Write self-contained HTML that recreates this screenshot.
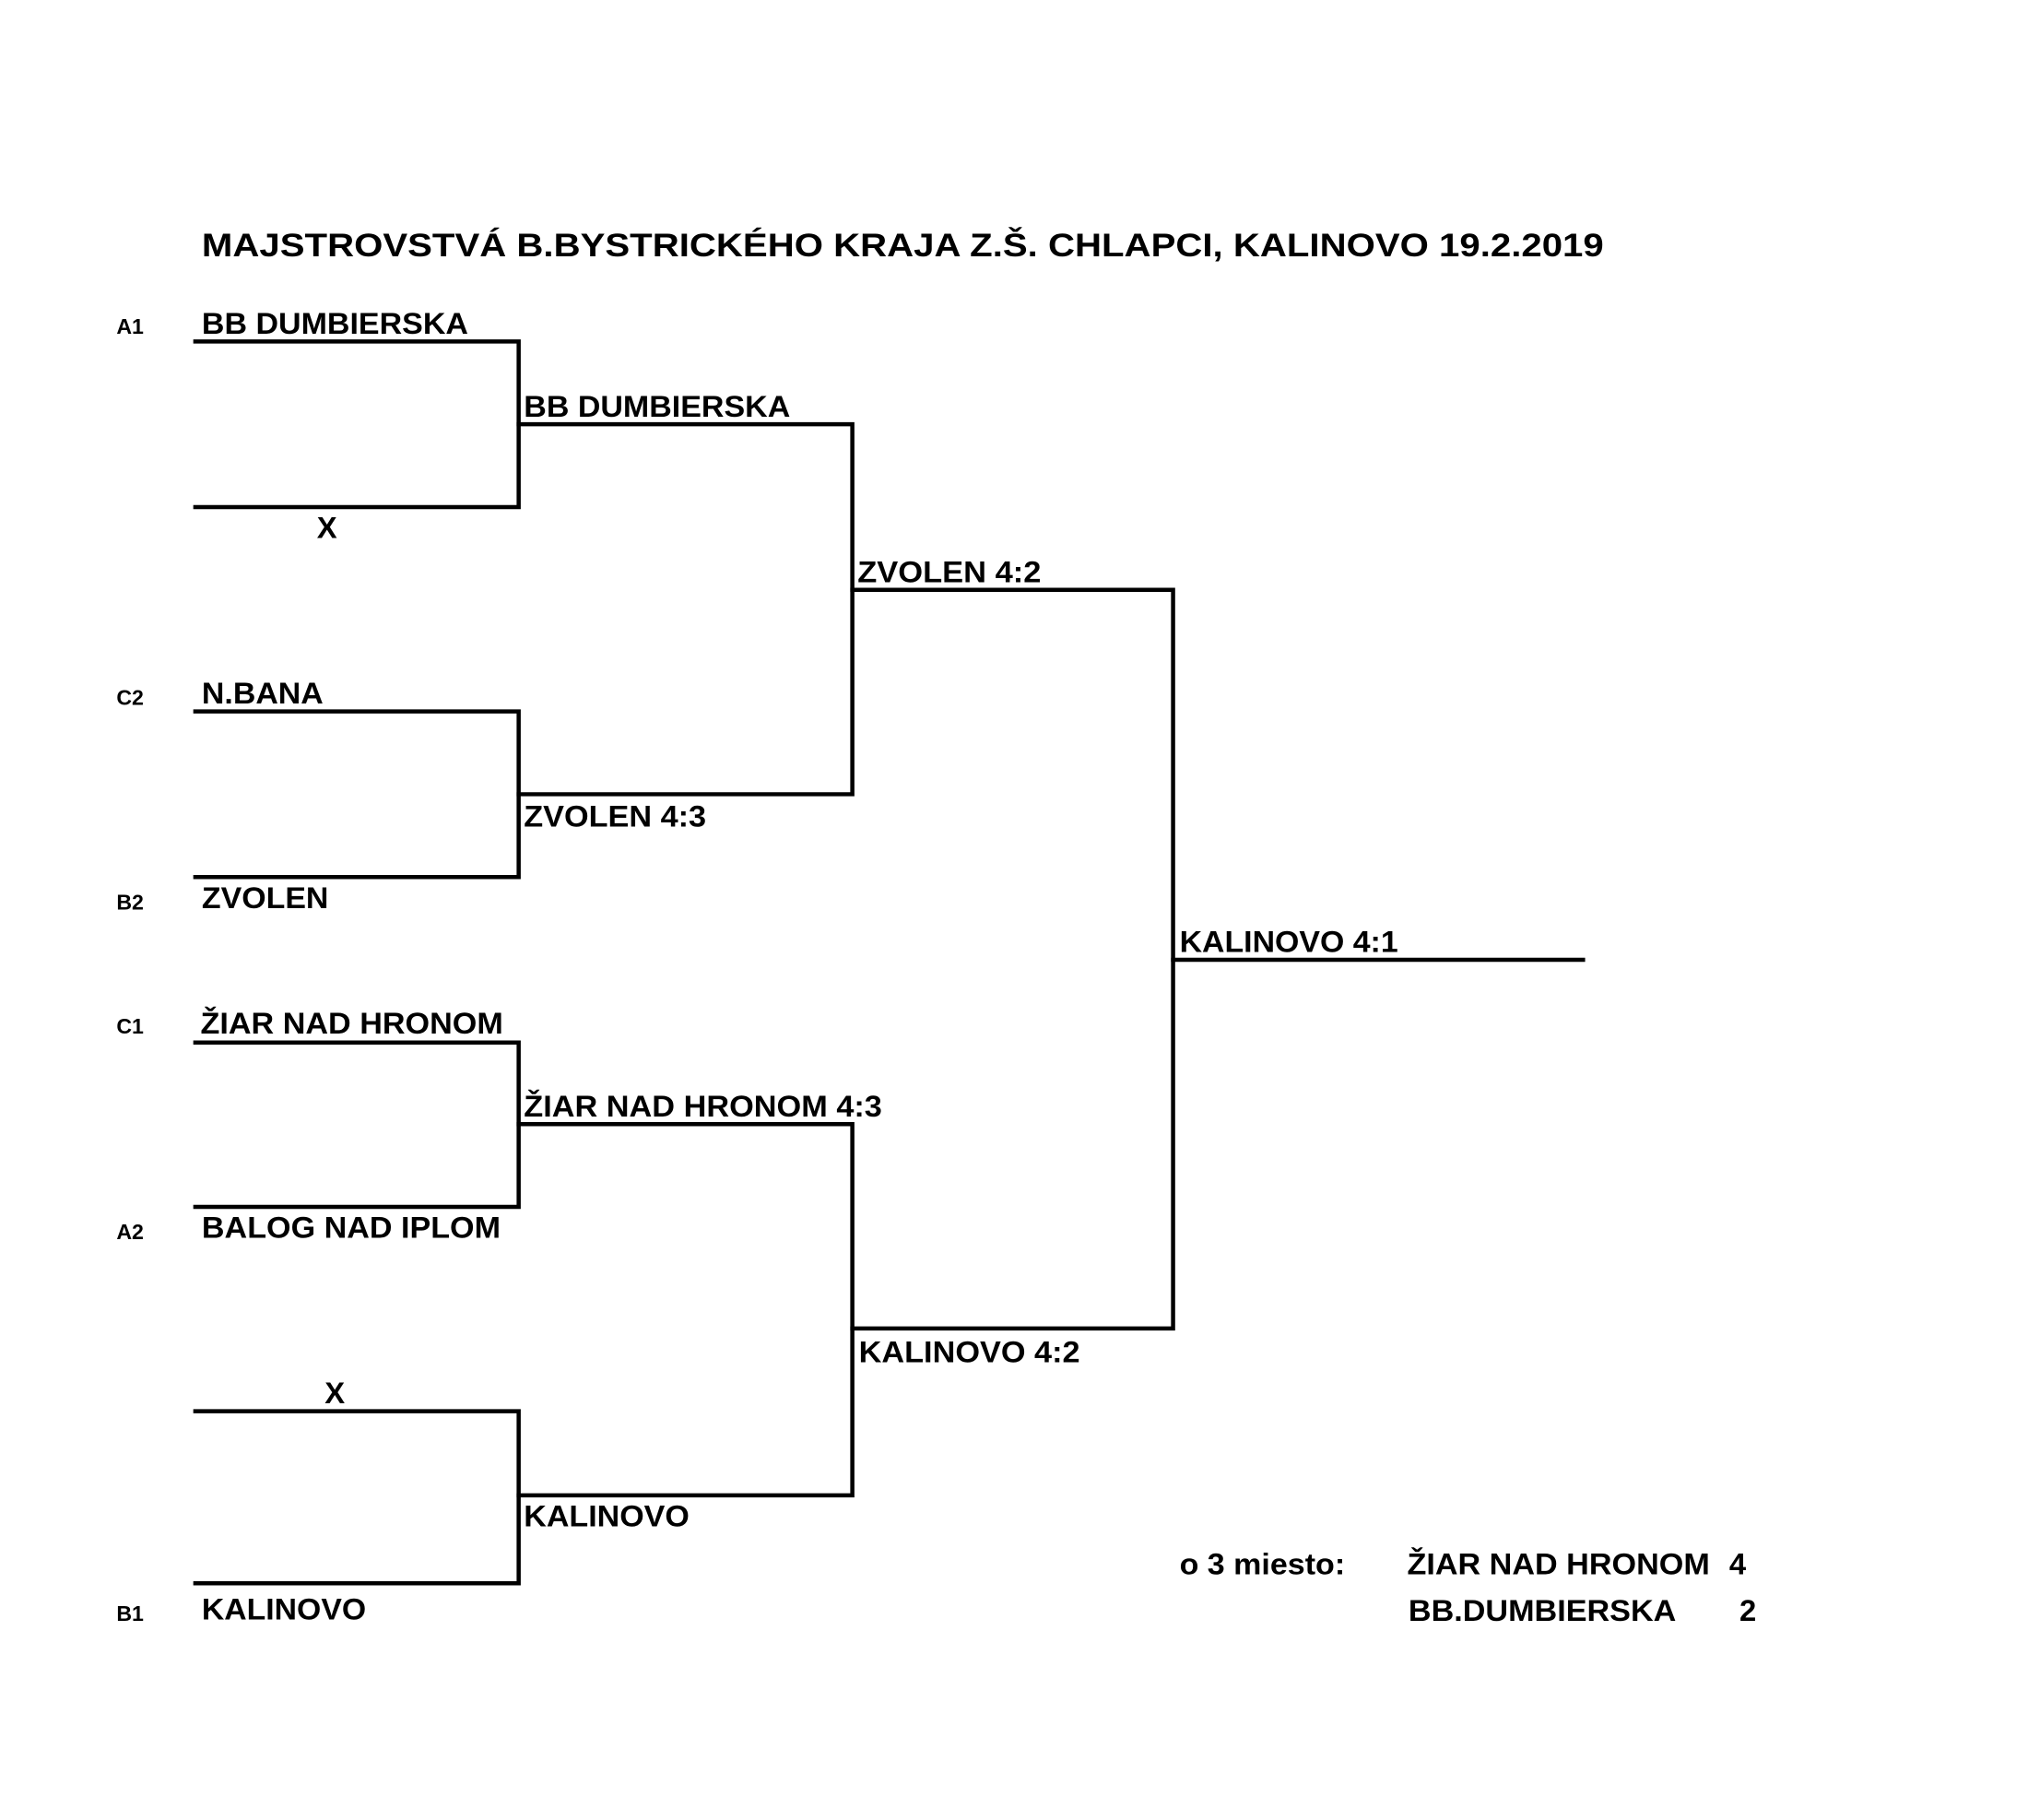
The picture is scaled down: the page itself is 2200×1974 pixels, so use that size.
<!DOCTYPE html>
<html><head><meta charset="utf-8"><style>
html,body{margin:0;padding:0;background:#fff;}
svg{display:block}
text{font-family:"Liberation Sans",Arial,sans-serif;font-weight:bold;fill:#000;}
</style></head><body>
<svg width="2200" height="1974" viewBox="0 0 1568 1407" xmlns="http://www.w3.org/2000/svg">
<rect width="1568" height="1407" fill="#fff"/>
<g stroke="#000" stroke-width="3.2" fill="none" stroke-linecap="square">
<path d="M151 264H401V392H151"/>
<path d="M151 550H401V678H151"/>
<path d="M151 806H401V933H151"/>
<path d="M151 1091H401V1224H151"/>
<path d="M401 328H659V614H401"/>
<path d="M401 869H659V1156H401"/>
<path d="M659 456H907V1027H659"/>
<path d="M907 742H1224"/>
</g>
<text x="156" y="198" font-size="25" textLength="1084" lengthAdjust="spacingAndGlyphs">MAJSTROVSTVÁ B.BYSTRICKÉHO KRAJA Z.Š. CHLAPCI, KALINOVO 19.2.2019</text>
<g font-size="16.5">
<text x="90" y="258">A1</text>
<text x="90" y="545">C2</text>
<text x="90" y="703">B2</text>
<text x="90" y="799">C1</text>
<text x="90" y="958">A2</text>
<text x="90" y="1253">B1</text>
</g>
<g font-size="23.4">
<text x="156" y="258" textLength="206" lengthAdjust="spacingAndGlyphs">BB DUMBIERSKA</text>
<text x="405" y="322" textLength="206" lengthAdjust="spacingAndGlyphs">BB DUMBIERSKA</text>
<text x="245" y="416">X</text>
<text x="663" y="450" textLength="142" lengthAdjust="spacingAndGlyphs">ZVOLEN 4:2</text>
<text x="156" y="544" textLength="94" lengthAdjust="spacingAndGlyphs">N.BANA</text>
<text x="405" y="639" textLength="141" lengthAdjust="spacingAndGlyphs">ZVOLEN 4:3</text>
<text x="156" y="702" textLength="98" lengthAdjust="spacingAndGlyphs">ZVOLEN</text>
<text x="912" y="736" textLength="169" lengthAdjust="spacingAndGlyphs">KALINOVO 4:1</text>
<text x="155" y="799" textLength="234" lengthAdjust="spacingAndGlyphs">ŽIAR NAD HRONOM</text>
<text x="405" y="863" textLength="277" lengthAdjust="spacingAndGlyphs">ŽIAR NAD HRONOM 4:3</text>
<text x="156" y="957" textLength="231" lengthAdjust="spacingAndGlyphs">BALOG NAD IPLOM</text>
<text x="664" y="1053" textLength="171" lengthAdjust="spacingAndGlyphs">KALINOVO 4:2</text>
<text x="251" y="1085">X</text>
<text x="405" y="1180" textLength="128" lengthAdjust="spacingAndGlyphs">KALINOVO</text>
<text x="156" y="1252" textLength="127" lengthAdjust="spacingAndGlyphs">KALINOVO</text>
<text x="912" y="1217" textLength="128" lengthAdjust="spacingAndGlyphs">o 3 miesto:</text>
<text x="1088" y="1217" textLength="234" lengthAdjust="spacingAndGlyphs">ŽIAR NAD HRONOM</text>
<text x="1337" y="1217">4</text>
<text x="1089" y="1253" textLength="207" lengthAdjust="spacingAndGlyphs">BB.DUMBIERSKA</text>
<text x="1345" y="1253">2</text>
</g>
</svg>
</body></html>
